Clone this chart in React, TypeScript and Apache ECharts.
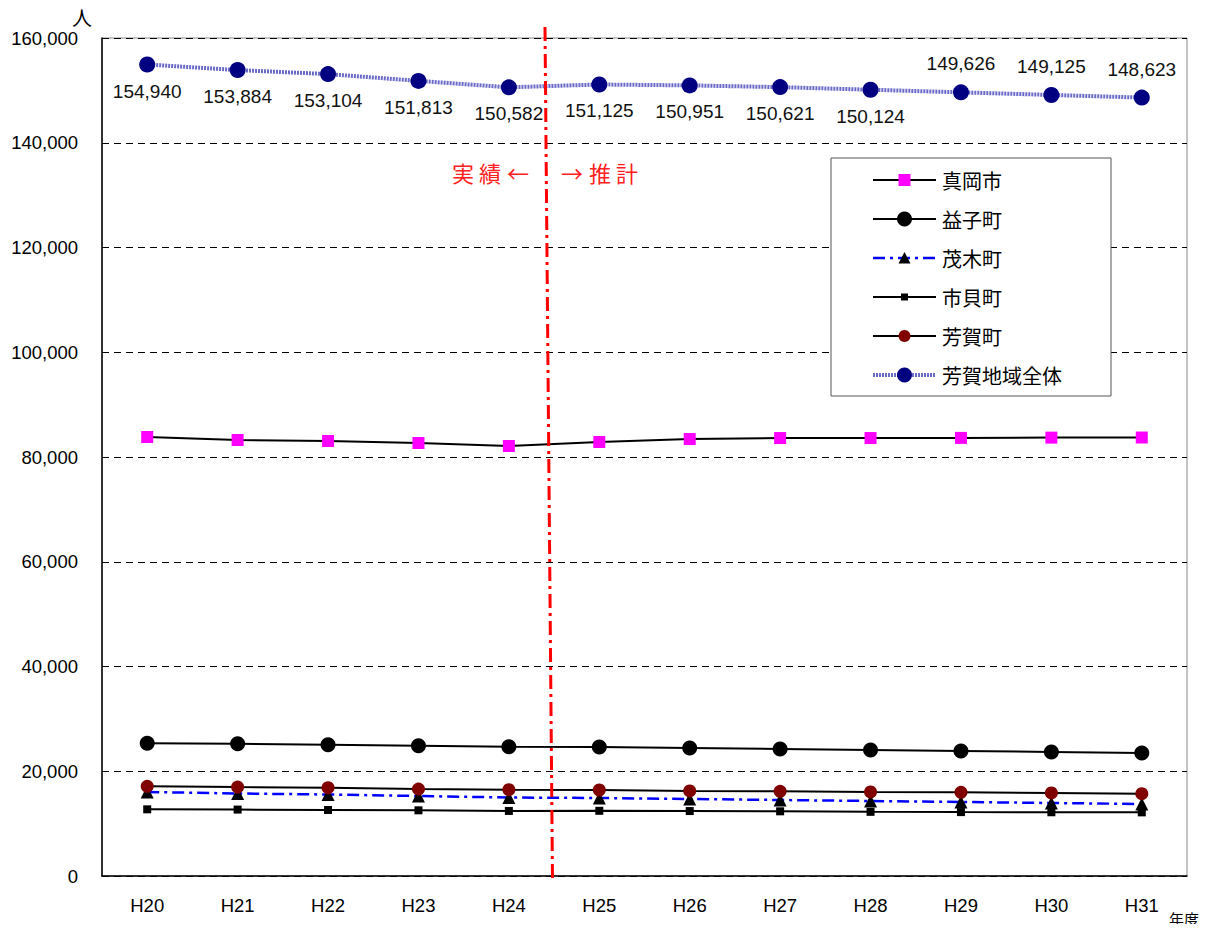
import React, { useEffect, useRef } from "react";
import * as echarts from "echarts";

// Fiscal years (Heisei era)
const years = ["H20", "H21", "H22", "H23", "H24", "H25", "H26", "H27", "H28", "H29", "H30", "H31"];

// Population by municipality (people)
const mokaCity = [83818, 83250, 83050, 82670, 82100, 82860, 83430, 83620, 83620, 83650, 83700, 83720];
const mashikoTown = [25340, 25260, 25070, 24880, 24690, 24630, 24440, 24250, 24060, 23870, 23680, 23480];
const motegiTown = [16040, 15750, 15560, 15270, 14990, 14890, 14700, 14510, 14320, 14130, 13940, 13750];
const ichikaiTown = [12730, 12680, 12600, 12540, 12420, 12450, 12400, 12350, 12250, 12200, 12170, 12150];
const hagaTown = [17130, 16990, 16860, 16610, 16480, 16420, 16230, 16170, 16040, 15980, 15850, 15720];
const hagaRegionTotal = [154940, 153884, 153104, 151813, 150582, 151125, 150951, 150621, 150124, 149626, 149125, 148623];
// Where each total label sits relative to its point
const totalLabelSide = ["bottom", "bottom", "bottom", "bottom", "bottom", "bottom", "bottom", "bottom", "bottom", "top", "top", "top"];

const yTicks = { min: 0, max: 160000, interval: 20000 };

const JP = '"Noto Sans CJK JP", sans-serif';
const NUM = '"Liberation Sans", Arial, sans-serif';

type Sym = "rect" | "circle" | "triangle";
interface SeriesStyle {
  name: string;
  data: number[];
  symbol: Sym;
  size: number;
  legendSize: number;
  fill: string;
  line: { color: string; width: number; type: any };
}

const blackLine = { color: "#000", width: 2, type: "solid" };
const totalLine = { color: "#6a6ac8", width: 4, type: [2, 1] };

const seriesStyles: SeriesStyle[] = [
  { name: "真岡市", data: mokaCity, symbol: "rect", size: 12, legendSize: 12, fill: "#ff00ff", line: blackLine },
  { name: "益子町", data: mashikoTown, symbol: "circle", size: 15, legendSize: 15, fill: "#000", line: blackLine },
  { name: "茂木町", data: motegiTown, symbol: "triangle", size: 13, legendSize: 12, fill: "#000", line: { color: "#0000ff", width: 2.5, type: [12, 5, 3, 5] } },
  { name: "市貝町", data: ichikaiTown, symbol: "rect", size: 8, legendSize: 7, fill: "#000", line: blackLine },
  { name: "芳賀町", data: hagaTown, symbol: "circle", size: 13, legendSize: 12, fill: "#800000", line: blackLine },
  { name: "芳賀地域全体", data: hagaRegionTotal, symbol: "circle", size: 16, legendSize: 15, fill: "#000080", line: totalLine },
];

// Hand-built legend box
const legendBox = { x: 831, y: 158, w: 280, h: 238 };
const legendRow0 = 180;
const legendRowStep = 39;
const legendLineX = [873, 936];
const legendTextX = 942;

function legendMarker(s: SeriesStyle, cx: number, cy: number) {
  const r = s.legendSize / 2;
  if (s.symbol === "circle") {
    return { type: "circle", z: 2, shape: { cx, cy, r }, style: { fill: s.fill } };
  }
  if (s.symbol === "rect") {
    return { type: "rect", z: 2, shape: { x: cx - r, y: cy - r, width: s.legendSize, height: s.legendSize }, style: { fill: s.fill } };
  }
  return {
    type: "polygon",
    z: 2,
    shape: { points: [[cx, cy - r], [cx + r, cy + r * 0.9], [cx - r, cy + r * 0.9]] },
    style: { fill: s.fill },
  };
}

function dashOf(t: any): number[] | undefined {
  return Array.isArray(t) ? t : undefined;
}

export default function App() {
  const ref = useRef<HTMLDivElement>(null);

  useEffect(() => {
    if (!ref.current) return;
    const chart = echarts.init(ref.current, null, { renderer: "svg" });

    const legendGraphics: any[] = [
      {
        type: "rect",
        z: 1,
        shape: { x: legendBox.x, y: legendBox.y, width: legendBox.w, height: legendBox.h },
        style: { fill: "#fff", stroke: "#555", lineWidth: 1 },
      },
    ];
    seriesStyles.forEach((s, i) => {
      const cy = legendRow0 + i * legendRowStep;
      legendGraphics.push({
        type: "line",
        z: 2,
        shape: { x1: legendLineX[0], y1: cy, x2: legendLineX[1], y2: cy },
        style: { stroke: s.line.color, lineWidth: s.line.width, lineDash: dashOf(s.line.type) },
      });
      legendGraphics.push(legendMarker(s, (legendLineX[0] + legendLineX[1]) / 2, cy));
      legendGraphics.push({
        type: "text",
        z: 2,
        x: legendTextX,
        y: cy,
        style: { text: s.name, fill: "#000", font: `20px ${JP}`, align: "left", verticalAlign: "middle" },
      });
    });

    const option = {
      animation: false,
      backgroundColor: "#fff",
      grid: {
        left: 102,
        right: 24,
        top: 38,
        bottom: 56,
        show: true,
        borderColor: "#888",
        borderWidth: 1,
      },
      xAxis: {
        type: "category",
        data: years,
        boundaryGap: true,
        axisLine: { lineStyle: { color: "#000", width: 1.5 } },
        axisTick: { inside: true, length: 5, lineStyle: { color: "#000" } },
        axisLabel: { color: "#000", fontSize: 18.5, fontFamily: NUM, margin: 20 },
      },
      yAxis: {
        type: "value",
        min: yTicks.min,
        max: yTicks.max,
        interval: yTicks.interval,
        axisLine: { show: true, lineStyle: { color: "#000", width: 1.5 } },
        axisTick: { show: false },
        axisLabel: {
          color: "#000",
          fontSize: 18.5,
          fontFamily: NUM,
          margin: 24,
          formatter: (v: number) => v.toLocaleString("en-US"),
        },
        splitLine: { lineStyle: { color: "#000", width: 1, type: [7, 5] } },
      },
      graphic: [
        ...legendGraphics,
        {
          type: "line",
          z: 100,
          shape: { x1: 545, y1: 27, x2: 552.5, y2: 880 },
          style: { stroke: "#ff0000", lineWidth: 3, lineDash: [14, 5, 3, 5] },
        },
        ...[
          ["実", 463],
          ["績", 490],
          ["←", 518],
          ["→", 572],
          ["推", 600],
          ["計", 627],
        ].map(([ch, x]) => ({
          type: "text",
          z: 100,
          x: x as number,
          y: 172,
          style: {
            text: ch as string,
            fill: "#ff2020",
            font: `22px ${JP}`,
            align: "center",
            verticalAlign: "middle",
          },
        })),
        {
          type: "text",
          x: 82,
          y: 17,
          style: { text: "人", fill: "#000", font: `20px ${JP}`, align: "center", verticalAlign: "middle" },
        },
        {
          type: "text",
          x: 1184,
          y: 918,
          style: { text: "年度", fill: "#000", font: `15px ${JP}`, align: "center", verticalAlign: "middle" },
        },
      ],
      series: seriesStyles.map((s, idx) => {
        const isTotal = idx === seriesStyles.length - 1;
        return {
          name: s.name,
          type: "line",
          data: isTotal
            ? s.data.map((v, i) => ({
                value: v,
                label: { position: totalLabelSide[i], distance: totalLabelSide[i] === "top" ? 11 : 9 },
              }))
            : s.data,
          symbol: s.symbol,
          symbolSize: s.size,
          itemStyle: { color: s.fill },
          lineStyle: s.line,
          label: isTotal
            ? {
                show: true,
                fontSize: 19,
                fontFamily: NUM,
                color: "#111",
                formatter: (p: any) => Number(p.value).toLocaleString("en-US"),
              }
            : { show: false },
          z: isTotal ? 5 : idx === 4 ? 4 : 3,
        };
      }),
    };

    chart.setOption(option as any);
    return () => chart.dispose();
  }, []);

  return <div ref={ref} style={{ width: 1211, height: 932, margin: -8 }} />;
}
